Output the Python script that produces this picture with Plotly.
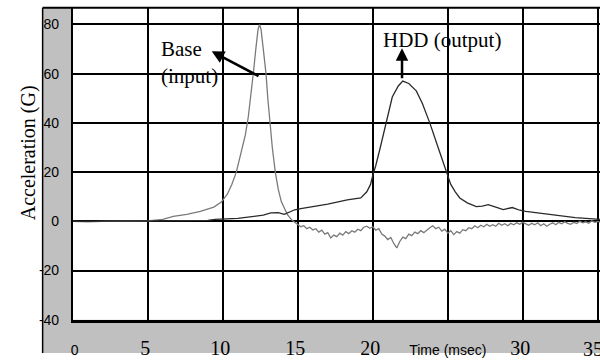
import plotly.graph_objects as go

# ---- data ----
base_t = [0, 1, 2, 3, 4, 5, 6, 6.7, 7.6, 8.5, 9.4, 9.9, 10.3, 10.6, 10.9, 11.2, 11.5, 11.7, 11.9,
          12.05, 12.2, 12.35, 12.45, 12.55, 12.7, 12.88, 13.0, 13.1, 13.3, 13.5, 13.7, 13.9, 14.1,
          14.3, 14.6, 14.9,
          15.0, 15.2, 15.4, 15.6, 15.8, 16.0, 16.2, 16.4, 16.6, 16.8, 17.0, 17.2, 17.4, 17.6, 17.8,
          18.0, 18.2, 18.4, 18.6, 18.8, 19.0, 19.2, 19.4, 19.6, 19.8, 20.0, 20.2, 20.4, 20.6, 20.8,
          21.0, 21.2, 21.4, 21.6, 21.8, 22.0, 22.2, 22.4, 22.6, 22.8, 23.0, 23.2, 23.4, 23.6, 23.8,
          24.0, 24.2, 24.4, 24.6, 24.8, 25.0, 25.2, 25.4, 25.6, 25.8, 26.0, 26.2, 26.4, 26.6, 26.8,
          27.0, 27.2, 27.4, 27.6, 27.8, 28.0, 28.2, 28.4, 28.6, 28.8, 29.0, 29.2, 29.4, 29.6, 29.8,
          30.0, 30.2, 30.4, 30.6, 30.8, 31.0, 31.2, 31.4, 31.6, 31.8, 32.0, 32.2, 32.4, 32.6, 32.8,
          33.0, 33.2, 33.4, 33.6, 33.8, 34.0, 34.2, 34.4, 34.6, 34.8, 35.0, 35.15]
base_g = [0, -0.2, 0, 0, 0, 0.2, 0.8, 2.0, 2.8, 4.0, 5.8, 7.8, 11, 15, 20, 27, 35, 42.5, 52,
          61, 70, 78, 80, 78, 70, 60, 50, 42.5, 30, 20, 13, 8, 5,
          2.8, 0.5, -1.0,
          -1.5, -2.2, -1.8, -3.0, -2.4, -3.5, -3.0, -4.4, -3.6, -5.2, -4.6, -6.8, -5.6, -6.2, -4.8,
          -5.6, -4.2, -5.0, -3.8, -4.4, -3.2, -3.8, -2.4, -2.0, -2.8, -2.2, -3.6, -3.0, -5.2, -6.0,
          -7.4, -6.6, -9.0, -10.8, -8.2, -6.4, -7.0, -5.2, -5.8, -4.4, -5.0, -3.8, -4.6, -3.4, -2.6,
          -1.8, -3.0, -2.4, -4.0, -3.2, -4.8, -3.8, -5.4, -4.2, -4.8, -3.4, -3.8, -2.6, -3.0, -1.8,
          -2.6, -1.6, -2.2, -1.2, -2.0, -1.4, -2.0, -0.8, -1.6, -1.0, -1.8, -0.8, -1.4, -0.6, -1.2,
          -0.4, -1.0, -1.6, -0.8, -1.4, -0.6, -1.8, -1.0, -2.0, -1.2, -0.6, -1.4, -0.4, -1.0, -0.2,
          -0.8, -1.2, -0.4, -0.9, 0.0, -0.6, -0.2, -0.8, 0.2, -0.4, 0.0, -0.3]

hdd_t = [0, 3, 6, 9, 9.5, 11, 12.1, 12.7, 13.2, 13.7, 14.1, 14.5, 14.8, 15.2, 16.1, 17, 18.3, 19.2,
         19.6, 19.85, 20.0, 20.2, 20.5, 20.9, 21.3, 21.7, 22.0, 22.4, 22.9, 23.3, 23.8, 24.3, 24.7,
         25.0, 25.2, 25.5, 25.8, 26.3, 26.9, 27.3, 27.7, 28.2, 28.7, 29.3, 29.8, 30.2, 31, 32.5,
         33.5, 35.15]
hdd_g = [0, 0, 0.2, 0.4, 0.8, 1.2, 2.0, 2.5, 3.4, 3.5, 2.8, 4.0, 4.7, 5.2, 6.0, 7.0, 8.7, 9.5,
         12, 15, 18.7, 22.7, 30, 40, 50.5, 55, 57, 56, 53, 48, 40, 31, 24,
         18, 15, 12, 9.5, 7.5, 6.0, 6.2, 6.8, 5.8, 4.8, 5.6, 4.5, 4.0, 3.4, 2.0,
         1.5, 0.8]

x_ticks = [0, 5, 10, 15, 20, 25, 30, 35]
x_labels = ["0", "5", "10", "15", "20", "Time (msec)", "30", "35"]
y_ticks = [-40, -20, 0, 20, 40, 60, 80]
y_labels = ["-40", "-20", "0", "20", "40", "60", "80"]

SANS = "Liberation Sans, Arial, sans-serif"
SERIF = "Liberation Serif, Times New Roman, serif"

def fmt_x(lbl):
    if lbl == "0":
        return '<span style="font-family:Liberation Sans;font-size:14px">&nbsp;0</span>'
    if lbl.startswith("Time"):
        return '<span style="font-family:Liberation Sans;font-size:14px">' + lbl + '</span>'
    if lbl == x_labels[-1]:
        return ""  # drawn as a clipped annotation at the right edge
    return lbl + "&nbsp;"

fig = go.Figure()
fig.add_trace(go.Scatter(x=base_t, y=base_g, mode="lines",
                         line=dict(color="#7a7a7a", width=1.3)))
fig.add_trace(go.Scatter(x=hdd_t, y=hdd_g, mode="lines",
                         line=dict(color="#2a2a2a", width=1.3)))

W, H = 600, 361
x0px, y_top, y_bot, gray_left = 67.5, 8, 327, 37

fig.update_layout(
    width=W, height=H, margin=dict(l=0, r=0, t=0, b=0),
    paper_bgcolor="white", plot_bgcolor="white", showlegend=False,
    xaxis=dict(domain=[x0px / W, 1], range=[0, 35.15],
               tickvals=x_ticks, ticktext=[fmt_x(l) for l in x_labels],
               tickfont=dict(family=SERIF, size=20, color="black"),
               ticks="outside", ticklen=8, tickcolor="rgba(0,0,0,0)",
               showgrid=True, gridcolor="black", gridwidth=1.8, zeroline=False,
               showline=True, linecolor="black", linewidth=3),
    yaxis=dict(domain=[(H - y_bot) / H, (H - y_top) / H], range=[-40, 80 + (25 - 8) / 2.515],
               tickvals=y_ticks, ticktext=y_labels,
               tickfont=dict(family=SANS, size=14, color="black"),
               ticks="outside", ticklen=9, tickcolor="rgba(0,0,0,0)",
               showgrid=True, gridcolor="black", gridwidth=1.8, zeroline=False,
               showline=True, linecolor="black", linewidth=1.8),
    shapes=[
        dict(type="rect", xref="paper", yref="paper", x0=gray_left / W, x1=x0px / W,
             y0=0, y1=(H - y_top) / H, fillcolor="#c0c0c0", line=dict(width=0), layer="below"),
        dict(type="rect", xref="paper", yref="paper", x0=gray_left / W, x1=1,
             y0=0, y1=(H - y_bot) / H, fillcolor="#c0c0c0", line=dict(width=0), layer="below"),
        dict(type="line", xref="paper", yref="paper", x0=gray_left / W, x1=gray_left / W,
             y0=0, y1=(H - y_top) / H, line=dict(color="black", width=1.5)),
        dict(type="line", xref="paper", yref="paper", x0=gray_left / W, x1=1,
             y0=(H - y_top) / H, y1=(H - y_top) / H, line=dict(color="black", width=2)),
    ],
    annotations=[
        dict(text="Acceleration (G)", textangle=-90, xref="paper", yref="paper",
             x=23 / W, y=1 - 156 / H, xanchor="center", yanchor="middle", showarrow=False,
             font=dict(family=SERIF, size=20, color="black")),
        dict(text=x_labels[-1], xref="x", yref="paper", x=x_ticks[-1], xshift=-5,
             y=1 - 357 / H, xanchor="center", yanchor="middle", showarrow=False,
             font=dict(family=SERIF, size=20, color="black")),
        dict(text="Base<br>(input)", xref="x", yref="y", x=5.75, y=64.5, xanchor="left",
             yanchor="middle", align="left", showarrow=False,
             font=dict(family=SERIF, size=21, color="black")),
        dict(text="HDD (output)", xref="x", yref="y", x=24.6, y=73.5, xanchor="center",
             yanchor="middle", showarrow=False,
             font=dict(family=SERIF, size=21, color="black")),
        dict(text="", xref="x", yref="y", axref="x", ayref="y", x=9.26, y=69.1, ax=12.48, ay=58.7,
             showarrow=True, arrowhead=2, arrowsize=1, arrowwidth=2.5, arrowcolor="black"),
        dict(text="", xref="x", yref="y", axref="x", ayref="y", x=21.95, y=70.3, ax=21.95, ay=57.5,
             showarrow=True, arrowhead=2, arrowsize=1, arrowwidth=2.5, arrowcolor="black"),
    ],
)

fig.write_html("out.html")
